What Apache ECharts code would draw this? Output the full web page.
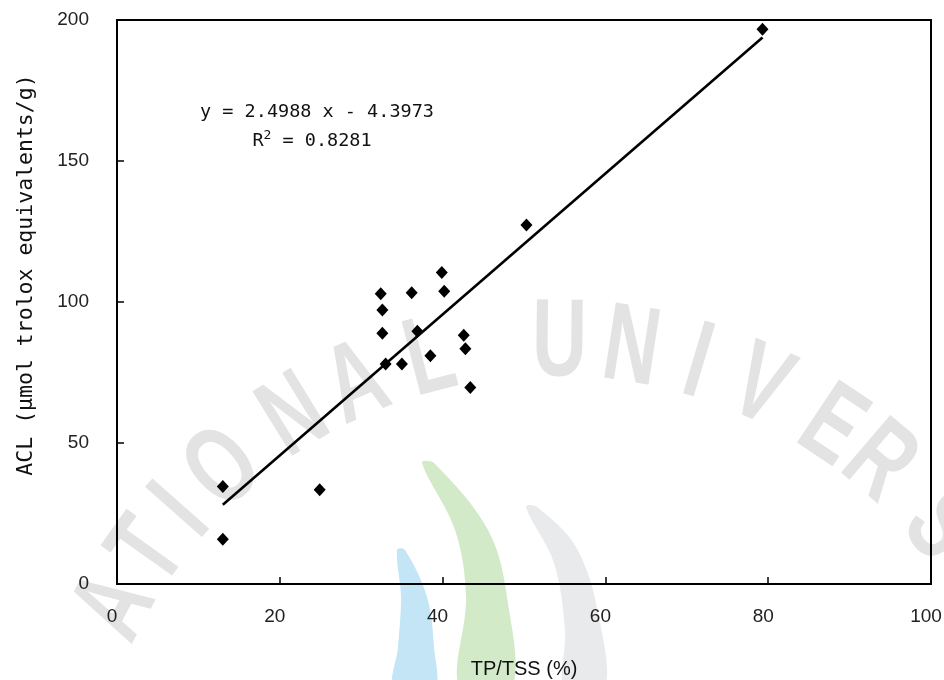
<!DOCTYPE html>
<html>
<head>
<meta charset="utf-8">
<script src="https://cdn.jsdelivr.net/npm/echarts@6/dist/echarts.min.js"></script>
<style>html,body{margin:0;padding:0;background:#fff}#c{width:944px;height:680px}</style>
</head>
<body>
<div id="c"></div>
<script>
// ---- data ----
var tpTss = [13.0, 13.0, 24.9, 32.4, 32.6, 32.6, 33.0, 35.0, 36.2, 36.9, 38.5, 39.9, 40.2, 42.6, 42.8, 43.4, 50.3, 79.3];
var acl   = [34.6, 15.9, 33.4, 102.9, 97.2, 88.9, 78.0, 78.0, 103.3, 89.6, 80.9, 110.5, 103.8, 88.2, 83.4, 69.7, 127.3, 196.7];
var fitSlope = 2.4988;
var fitIntercept = -4.3973;
var fitR2 = 0.8281;
var xTicks = [0, 20, 40, 60, 80, 100];
var yTicks = [0, 50, 100, 150, 200];
var xTitle = 'TP/TSS (%)';
var yTitle = 'ACL (\u03bcmol trolox equivalents/g)';

// watermark letters (decoration): letter, angle in degrees along the seal arc
var wmLetters = ['A','T','I','O','N','A','L','U','N','I','V','E','R','S'];
var wmAngles  = [-61.8,-54.5,-48.5,-41.6,-31.5,-23.4,-14.5,0.5,8.8,16.6,24.3,33.7,40.5,50.6];

var points = tpTss.map(function (x, i) { return [x, acl[i]]; });
var xMin = Math.min.apply(null, tpTss), xMax = Math.max.apply(null, tpTss);
var fitLine = [[xMin, fitSlope * xMin + fitIntercept], [xMax, fitSlope * xMax + fitIntercept]];

var graphics = [];
// seal watermark
var cx = 555, cy = 842, R = 497;
wmLetters.forEach(function (ch, i) {
  var a = wmAngles[i] * Math.PI / 180;
  graphics.push({
    type: 'text', z: -10, silent: true,
    x: cx + R * Math.sin(a), y: cy - R * Math.cos(a),
    rotation: -a, scaleY: 1.45,
    style: { text: ch, fill: '#e3e3e3', font: 'bold 76px "Liberation Sans"', textAlign: 'center', textVerticalAlign: 'middle' }
  });
});
function crescent(pts, color) {
  graphics.push({ type: 'polygon', z: -11, silent: true, shape: { points: pts, smooth: 0.35 }, style: { fill: color } });
}
crescent([[397,550],[401,597],[398,647],[394,690],[434,690],[434,647],[427,597],[405,550]], '#c3e5f6');
crescent([[422,463],[455,530],[466,597],[460,690],[511,690],[507,597],[488,530],[434,463]], '#d3eac8');
crescent([[526,507],[554,563],[565,630],[565,690],[604,690],[598,613],[576,547],[537,507]], '#e9eaeb');

// regression text
var sign = fitIntercept < 0 ? ' - ' : ' + ';
graphics.push({
  type: 'text', z: 20, x: 317, y: 112,
  style: { text: 'y = ' + fitSlope.toFixed(4) + ' x' + sign + Math.abs(fitIntercept).toFixed(4),
           fill: '#111', font: '18.5px "DejaVu Sans Mono"', textAlign: 'center', textVerticalAlign: 'middle' }
});
graphics.push({
  type: 'text', z: 20, x: 312, y: 141,
  style: {
    text: '{r|R}{s|2}{t| = ' + fitR2.toFixed(4) + '}',
    textAlign: 'center', textVerticalAlign: 'middle',
    rich: {
      r: { font: '18.5px "DejaVu Sans Mono"', fill: '#111' },
      s: { font: '13px "DejaVu Sans Mono"', fill: '#111', verticalAlign: 'top', padding: [0, 0, 10, 0] },
      t: { font: '18.5px "DejaVu Sans Mono"', fill: '#111' }
    }
  }
});

var chart = echarts.init(document.getElementById('c'), null, { renderer: 'canvas' });
chart.setOption({
  animation: false,
  backgroundColor: '#fff',
  grid: { left: 117, right: 13, top: 20, bottom: 96, containLabel: false, outerBoundsMode: 'none',
          show: true, borderColor: '#000', borderWidth: 2, backgroundColor: 'transparent' },
  xAxis: {
    type: 'value', min: xTicks[0], max: xTicks[xTicks.length - 1], interval: xTicks[1] - xTicks[0],
    name: xTitle, nameLocation: 'middle', nameGap: 75,
    nameTextStyle: { fontFamily: 'Liberation Sans', fontSize: 20, color: '#111' },
    axisLine: { show: true, lineStyle: { color: '#000', width: 2 } },
    axisTick: { show: true, inside: true, length: 7, lineStyle: { color: '#000', width: 1.5 } },
    axisLabel: { fontFamily: 'Liberation Sans', fontSize: 19, color: '#222', margin: 23, padding: [0, 10, 0, 0] },
    splitLine: { show: false }
  },
  yAxis: {
    type: 'value', min: yTicks[0], max: yTicks[yTicks.length - 1], interval: yTicks[1] - yTicks[0],
    name: yTitle, nameLocation: 'middle', nameGap: 80, nameRotate: 90,
    nameTextStyle: { fontFamily: 'DejaVu Sans Mono', fontSize: 21.5, color: '#111', padding: [0, 0, 0, 54] },
    axisLine: { show: true, lineStyle: { color: '#000', width: 2 } },
    axisTick: { show: true, inside: true, length: 7, lineStyle: { color: '#000', width: 1.5 } },
    axisLabel: { fontFamily: 'Liberation Sans', fontSize: 19, color: '#222', margin: 28, padding: [6, 0, 0, 0] },
    splitLine: { show: false }
  },
  graphic: { elements: graphics },
  series: [
    {
      type: 'line', data: fitLine, symbol: 'none', z: 3,
      lineStyle: { color: '#000', width: 2.6 }
    },
    {
      type: 'scatter', data: points, symbol: 'diamond', symbolSize: [12, 13], z: 4,
      itemStyle: { color: '#000', opacity: 1 }
    }
  ]
});
</script>
</body>
</html>
